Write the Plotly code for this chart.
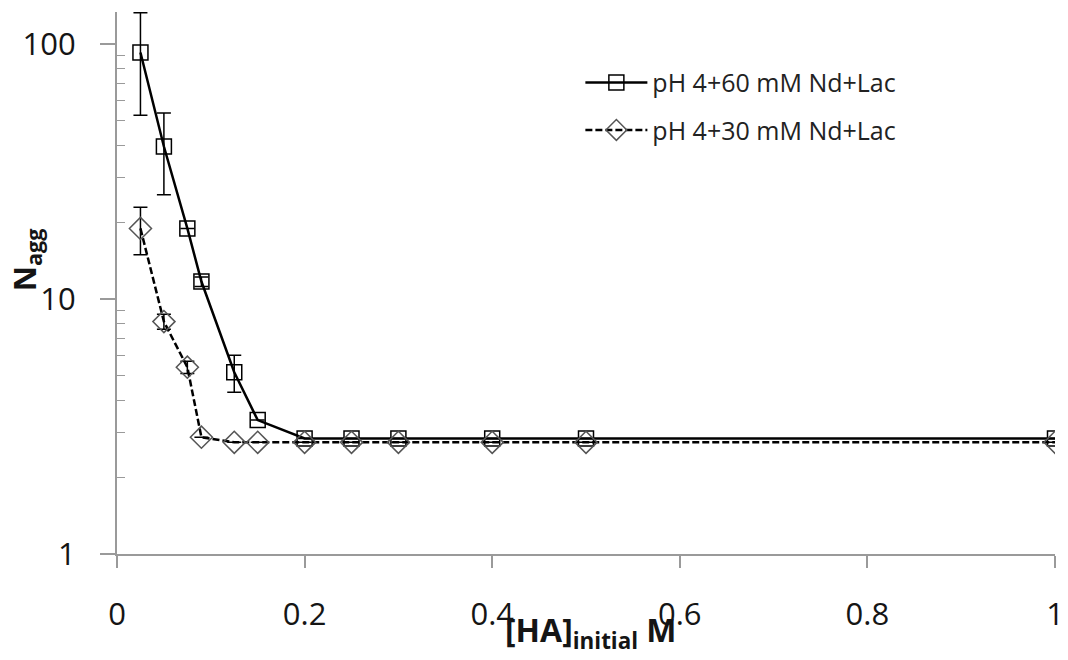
import plotly.graph_objects as go

# Data
x60 = [0.025, 0.05, 0.075, 0.09, 0.125, 0.15, 0.2, 0.25, 0.3, 0.4, 0.5, 1.0]
y60 = [92.5, 39.6, 18.9, 11.7, 5.16, 3.35, 2.84, 2.84, 2.84, 2.84, 2.84, 2.84]
e60 = [40, 14, 0, 0.5, 0.85, 0, 0, 0, 0, 0, 0, 0]

x30 = [0.025, 0.05, 0.075, 0.09, 0.125, 0.15, 0.2, 0.25, 0.3, 0.4, 0.5, 1.0]
y30 = [18.9, 8.15, 5.4, 2.87, 2.74, 2.74, 2.74, 2.74, 2.74, 2.74, 2.74, 2.74]
e30 = [4, 0.55, 0.3, 0, 0, 0, 0, 0, 0, 0, 0, 0]

name60 = "pH 4+60 mM Nd+Lac"
name30 = "pH 4+30 mM Nd+Lac"

xticks = [0, 0.2, 0.4, 0.6, 0.8, 1]
xticktext = ["0", "0.2", "0.4", "0.6", "0.8", "1"]
yticks = [1, 10, 100]
yticktext = ["1", "10", "100"]

FONT = "Open Sans"
TXT = "#151515"
AX = "#9a9a9a"

fig = go.Figure()
fig.add_trace(go.Scatter(
    x=x60, y=y60, name=name60, mode="lines+markers",
    line=dict(color="black", width=2.5),
    marker=dict(symbol="square-open", size=15, color="black", line=dict(width=1.5, color="black")),
    error_y=dict(type="data", array=e60, visible=True, color="black", thickness=1.5, width=7),
    legendgroup="a",
))
fig.add_trace(go.Scatter(
    x=x30, y=y30, name=name30, mode="lines+markers",
    line=dict(color="black", width=2.5, dash="7px,3px"),
    marker=dict(symbol="diamond-open", size=17, color="#555555", line=dict(width=1.5, color="#555555")),
    error_y=dict(type="data", array=e30, visible=True, color="black", thickness=1.5, width=7),
    legendgroup="b",
))

minor_vals = [m * 10 ** d for d in range(0, 3) for m in range(2, 10)]

fig.update_layout(
    width=1060, height=652,
    margin=dict(l=109, r=13, t=4, b=106),
    paper_bgcolor="white", plot_bgcolor="white",
    font=dict(family=FONT, color=TXT),
    showlegend=True,
    legend=dict(
        x=0.494, y=0.912, xanchor="left", yanchor="top",
        font=dict(size=25, family=FONT, color="#222222"),
        bgcolor="rgba(0,0,0,0)", tracegroupgap=12, itemwidth=62,
    ),
    xaxis=dict(
        range=[0, 1], tickvals=xticks, ticktext=xticktext,
        showgrid=False, zeroline=False, showline=True, linecolor=AX, linewidth=2,
        ticks="outside", ticklen=12, tickcolor=AX, tickwidth=1.5,
        ticklabelstandoff=20,
        tickfont=dict(size=31, family=FONT, color=TXT),
    ),
    yaxis=dict(
        type="log", range=[0, 2.125], tickvals=yticks, ticktext=yticktext,
        showgrid=False, zeroline=False, showline=True, linecolor=AX, linewidth=2,
        ticks="outside", ticklen=15, tickcolor=AX, tickwidth=1.5,
        ticklabelstandoff=18,
        tickfont=dict(size=31, family=FONT, color=TXT),
        minor=dict(tickvals=minor_vals, ticks="inside", ticklen=8, tickcolor=AX, tickwidth=1.2, showgrid=False),
    ),
    annotations=[
        dict(text="<b>N<sub>agg</sub></b>", xref="paper", yref="paper", x=-0.097, y=0.542,
             xanchor="center", yanchor="middle", textangle=-90, showarrow=False,
             font=dict(size=31, family=FONT, color=TXT)),
        dict(text="<b>[HA]<sub>initial</sub> M</b>", xref="paper", yref="paper", x=0.5053, y=-0.096,
             xanchor="center", yanchor="top", showarrow=False,
             font=dict(size=32, family=FONT, color=TXT)),
    ],
)

fig.write_html("out.html")
